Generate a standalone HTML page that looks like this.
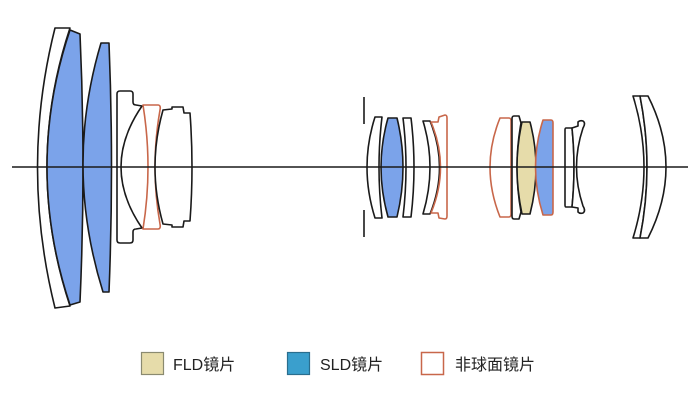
<!DOCTYPE html>
<html><head><meta charset="utf-8"><style>
html,body{margin:0;padding:0;background:#fff;width:700px;height:412px;overflow:hidden}
svg{position:absolute;left:0;top:0}
.t{font-family:"Liberation Sans","Noto Sans CJK SC",sans-serif;font-size:16px;fill:#222}
</style></head><body>
<svg width="700" height="412" viewBox="0 0 700 412" xmlns="http://www.w3.org/2000/svg">
<g stroke="#1a1a1a" stroke-width="1.6" stroke-linejoin="round" fill="#fff">
<!-- front group -->
<path d="M55,28 L70,28 Q24,167 70,306 L55,308 Q20,167 55,28 Z"/>
<path d="M70,30 L80,34 Q86,167 80,302 L70,305 Q24,167 70,30 Z" fill="#7ba3ea"/>
<path d="M101,43 L109,43 Q114,167 109,292 L103,292 Q64,167 101,43 Z" fill="#7ba3ea"/>
<path d="M120,91 L130,91 Q133,91 133,94 L133,102 Q133,105 136,105 L142,106 Q100,167 142,228 L136,229 Q133,229 133,232 L133,240 Q133,243 130,243 L120,243 Q117,243 117,240 L117,94 Q117,91 120,91 Z"/>
<path d="M143,105 L158,105 Q161,105 160,110 Q150,167 160,224 Q161,229 158,229 L143,229 Q153,167 143,105 Z" stroke="#c8674a"/>
<path d="M163,110 L172,109 L172,107 L183,107 L184,113 L190,113 Q194,167 190,221 L184,221 L183,227 L172,227 L172,225 L163,224 Q147,167 163,110 Z"/>
<!-- stop -->
<path d="M364,97 L364,124 M364,210 L364,237" fill="none"/>
<!-- rear -->
<path d="M375,117 L382,117 Q376,167 382,218 L375,218 Q359,167 375,117 Z"/>
<path d="M388,118 L397,118 Q409,167 397,217 L388,217 Q374,167 388,118 Z" fill="#7ba3ea"/>
<path d="M403,118 L411,118 Q417,167 411,217 L403,217 Q409,167 403,118 Z"/>
<path d="M423,121 L430,121 Q449,167 430,214 L423,214 Q437,167 423,121 Z"/>
<path d="M431,122 L438,122 L439,117 L445,115 Q447,115 447,118 L447,216 Q447,219 445,219 L439,218 L438,213 L431,213 Q450,167 431,122 Z" stroke="#c8674a"/>
<path d="M500,118 L509,118 Q511,118 511,121 L511,214 Q511,217 509,217 L500,217 Q480,167 500,118 Z" stroke="#c8674a"/>
<path d="M514,116 L519,116 L521,123 Q513,167 521,212 L519,219 L514,219 Q512,219 512,216 L512,119 Q512,116 514,116 Z"/>
<path d="M522,122 L530,122 Q542,167 530,214 L522,214 Q512,167 522,122 Z" fill="#e6dcaa"/>
<path d="M543,120 L551,120 Q553,120 553,123 L553,212 Q553,215 551,215 L543,215 Q528,167 543,120 Z" fill="#7ba3ea" stroke="#c8674a"/>
<path d="M566,128 L572,128 Q576,167 572,207 L566,207 Q565,207 565,205 L565,130 Q565,128 566,128 Z"/>
<path d="M572,128 L578,126 L578,122 Q580,120 583,121 Q586,123 583,128 Q570,167 583,206 Q586,211 583,213 Q580,214 578,212 L578,208 L572,207 Q576,167 572,128 Z"/>
<path d="M633,96 L640,96 Q654,167 640,238 L633,238 Q655,167 633,96 Z"/>
<path d="M640,96 L648,96 Q684,167 648,238 L640,238 Q654,167 640,96 Z"/>
</g>
<line x1="12" y1="167" x2="688" y2="167" stroke="#1a1a1a" stroke-width="1.5"/>
<!-- legend -->
<rect x="141.5" y="352.5" width="22" height="22" fill="#e6dcaa" stroke="#8a8a70" stroke-width="1.2"/>
<text class="t" x="173" y="370">FLD镜片</text>
<rect x="287.5" y="352.5" width="22" height="22" fill="#3a9fcd" stroke="#2a6e8e" stroke-width="1.2"/>
<text class="t" x="320" y="370">SLD镜片</text>
<rect x="421.5" y="352.5" width="22" height="22" fill="#fff" stroke="#c8674a" stroke-width="1.5"/>
<text class="t" x="455" y="370">非球面镜片</text>
</svg>
</body></html>
